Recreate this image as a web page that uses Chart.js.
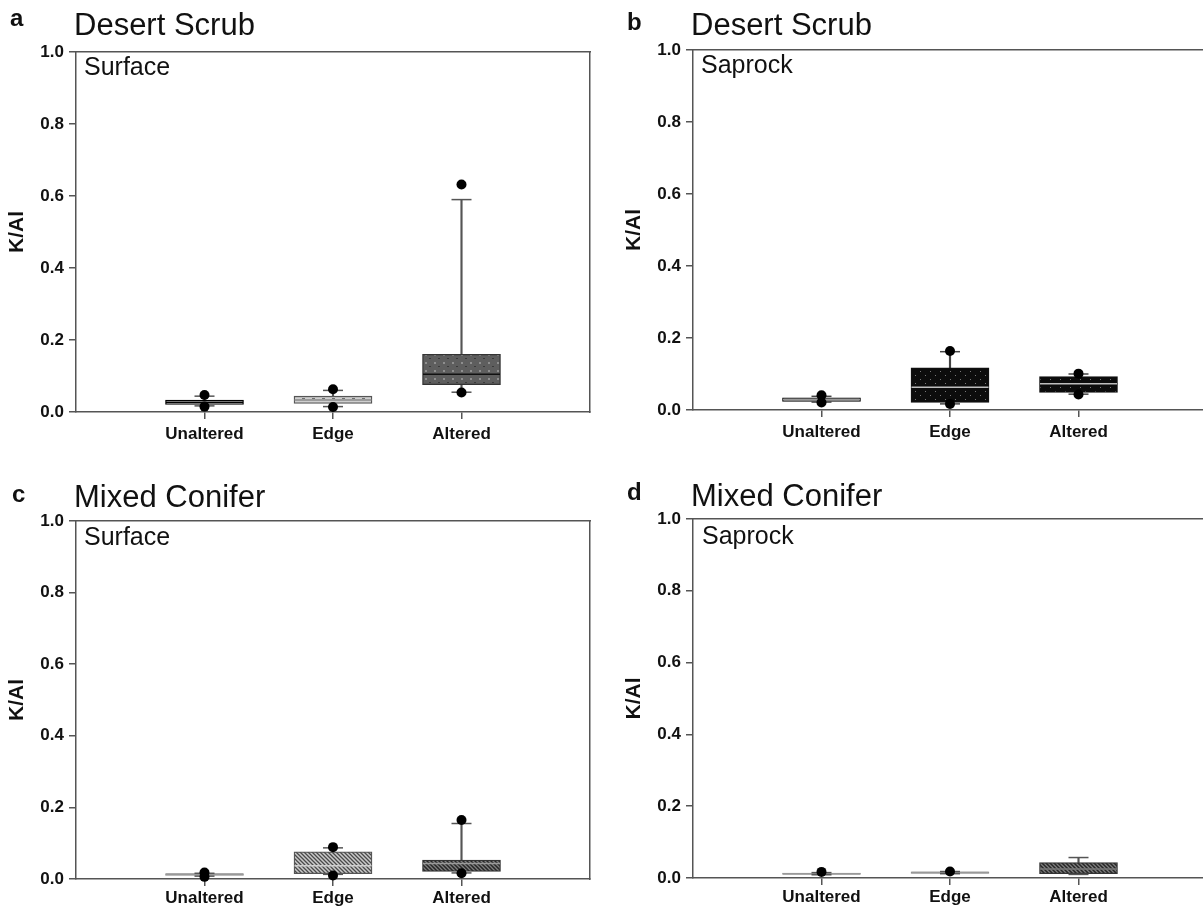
<!DOCTYPE html>
<html><head><meta charset="utf-8">
<script src="https://cdn.jsdelivr.net/npm/chart.js@4.4.0/dist/chart.umd.min.js"></script>
<style>
html,body{margin:0;padding:0;background:#fff;width:1203px;height:911px;overflow:hidden;position:relative;font-family:"Liberation Sans",Arial,sans-serif;}
canvas{position:absolute;}
.t{position:absolute;line-height:1;white-space:nowrap;color:#111;}
.L{font-weight:bold;font-size:24px;}
.T{font-size:31px;}
.S{font-size:25px;}
</style></head><body>
<canvas id="ca" width="600" height="456" style="left:0;top:0"></canvas>
<canvas id="cb" width="600" height="456" style="left:617px;top:0"></canvas>
<canvas id="cc" width="600" height="455" style="left:0;top:456px"></canvas>
<canvas id="cd" width="600" height="455" style="left:617px;top:456px"></canvas>

<div class="t L" style="left:10px;top:6px">a</div>
<div class="t T" style="left:74px;top:9px">Desert Scrub</div>
<div class="t S" style="left:84px;top:54px">Surface</div>

<div class="t L" style="left:627px;top:10px">b</div>
<div class="t T" style="left:691px;top:9px">Desert Scrub</div>
<div class="t S" style="left:701px;top:52px">Saprock</div>

<div class="t L" style="left:12px;top:482px">c</div>
<div class="t T" style="left:74px;top:481px">Mixed Conifer</div>
<div class="t S" style="left:84px;top:524px">Surface</div>

<div class="t L" style="left:627px;top:480px">d</div>
<div class="t T" style="left:691px;top:480px">Mixed Conifer</div>
<div class="t S" style="left:702px;top:523px">Saprock</div>

<script>
// ---------- data ----------
const categories = ['Unaltered', 'Edge', 'Altered'];
const yTicks = [0, 0.2, 0.4, 0.6, 0.8, 1.0];

// a: Desert Scrub, Surface
const aLow     = [0.017, 0.015, 0.055];
const aQ1      = [0.021, 0.024, 0.076];
const aMed     = [0.027, 0.033, 0.105];
const aQ3      = [0.033, 0.044, 0.160];
const aHigh    = [0.044, 0.060, 0.590];
const aOutHigh = [0.047, 0.063, 0.632];
const aOutLow  = [0.015, 0.014, 0.054];

// b: Desert Scrub, Saprock
const bLow     = [0.022, 0.017, 0.044];
const bQ1      = [0.024, 0.021, 0.049];
const bMed     = [0.029, 0.063, 0.073];
const bQ3      = [0.034, 0.117, 0.093];
const bHigh    = [0.038, 0.162, 0.100];
const bOutHigh = [0.041, 0.164, 0.101];
const bOutLow  = [0.021, 0.017, 0.043];

// c: Mixed Conifer, Surface
const cLow     = [0.008, 0.013, 0.017];
const cQ1      = [0.010, 0.015, 0.021];
const cMed     = [0.013, 0.037, 0.043];
const cQ3      = [0.015, 0.076, 0.053];
const cHigh    = [0.016, 0.087, 0.155];
const cOutHigh = [0.018, 0.089, 0.165];
const cOutLow  = [0.006, 0.010, 0.016];

// d: Mixed Conifer, Saprock
const dLow     = [0.009, 0.012, 0.010];
const dQ1      = [0.010, 0.013, 0.012];
const dMed     = [0.012, 0.015, 0.025];
const dQ3      = [0.014, 0.017, 0.043];
const dHigh    = [0.015, 0.018, 0.057];
const dOutHigh = [0.017, 0.018, null];
const dOutLow  = [null, null, null];

// ---------- patterns ----------
function pattern(w, h, base, draw) {
  const c = document.createElement('canvas');
  c.width = w; c.height = h;
  const g = c.getContext('2d');
  g.fillStyle = base; g.fillRect(0, 0, w, h);
  draw(g);
  return g.createPattern(c, 'repeat');
}
const dashLight = pattern(10, 6, '#cfcfcf', g => { g.fillStyle = '#6e6e6e'; g.fillRect(2, 2, 3, 1); });
const dotGrey = pattern(9, 8, '#5e5e5e', g => { g.fillStyle = '#8e8e8e'; g.fillRect(2, 2, 2, 2); g.fillStyle = '#3a3a3a'; g.fillRect(6, 6, 2, 1); });
const dotBlack = pattern(10, 8, '#0c0c0c', g => { g.fillStyle = '#777'; g.fillRect(3, 3, 1, 1); g.fillRect(8, 7, 1, 1); });
function hatch(base, line, step) {
  return pattern(step, step, base, g => {
    g.strokeStyle = line; g.lineWidth = 1.3;
    g.beginPath();
    g.moveTo(-1, -1); g.lineTo(step + 1, step + 1);
    g.moveTo(-1, step - 1); g.lineTo(1, step + 1);
    g.moveTo(step - 1, -1); g.lineTo(step + 1, 1);
    g.stroke();
  });
}
const hatchLight = hatch('#cacaca', '#4a4a4a', 4);
const hatchDark = hatch('#262626', '#7e7e7e', 4);

const FONT = '"Liberation Sans", Arial, sans-serif';
const AXC = '#555';

function pts(vals) {
  const out = [];
  vals.forEach((v, i) => { if (v !== null && v !== undefined) out.push({ x: i + 1, y: v }); });
  return out;
}

function makePanel(id, S, st, L) {
  const boxes = categories.map((c, i) => ({ x: i + 1, y: [S.q1[i], S.q3[i]] }));
  const whiskers = [];
  categories.forEach((c, i) => {
    whiskers.push({ x: i + 1, y: [S.low[i], S.q1[i]] });
    whiskers.push({ x: i + 1, y: [S.q3[i], S.high[i]] });
  });
  const caps = pts(S.low).concat(pts(S.high));
  const outs = pts(S.outHigh).concat(pts(S.outLow));
  const meds = pts(S.med);

  new Chart(document.getElementById(id), {
    type: 'bar',
    data: {
      datasets: [
        { type: 'scatter', data: outs, order: 0, clip: false,
          pointStyle: 'circle', pointRadius: 5, pointBackgroundColor: '#000', pointBorderColor: '#000', pointBorderWidth: 0 },
        { type: 'scatter', data: caps, order: 1, clip: false,
          pointStyle: 'line', pointRadius: 10, pointBorderColor: st.whisker, pointBorderWidth: 1.5 },
        { type: 'scatter', data: meds, order: 2, clip: false,
          pointStyle: 'line', pointRadius: 38.5, pointBorderColor: st.median, pointBorderWidth: 1.5 },
        { type: 'bar', data: boxes, order: 3, grouped: false, barThickness: 78,
          backgroundColor: st.fill, borderColor: st.border, borderWidth: 1.3, borderSkipped: false },
        { type: 'bar', data: whiskers, order: 4, grouped: false, barThickness: 1.5,
          backgroundColor: st.whisker, borderWidth: 0 }
      ]
    },
    options: {
      responsive: false, animation: false, events: [],
      layout: { autoPadding: false, padding: { top: L.top, right: 10, left: 0, bottom: 0 } },
      plugins: { legend: { display: false }, tooltip: { enabled: false } },
      scales: {
        x: {
          type: 'linear', min: 0, max: 4, offset: false,
          afterBuildTicks: s => { s.ticks = categories.map((c, i) => ({ value: i + 1 })); },
          afterFit: s => { s.height = L.xh; },
          ticks: { callback: v => categories[v - 1] || '', autoSkip: false, maxRotation: 0,
                   font: { family: FONT, size: 17, weight: 'bold' }, color: '#111', padding: L.tp },
          grid: { display: true, drawOnChartArea: false, drawTicks: true, tickLength: 7, color: AXC, lineWidth: 1.5, offset: false },
          border: { display: true, color: AXC, width: 1.5 }
        },
        y: {
          type: 'linear', min: 0, max: 1,
          afterBuildTicks: s => { s.ticks = yTicks.map(v => ({ value: v })); },
          afterFit: s => { s.width = 76; },
          ticks: { callback: v => Number(v).toFixed(1), font: { family: FONT, size: 17, weight: 'bold' }, color: '#111', padding: 5 },
          title: { display: true, text: 'K/Al', font: { family: FONT, size: 21, weight: 'bold' }, color: '#111', padding: { top: 5, bottom: 0 } },
          grid: { display: true, drawOnChartArea: false, drawTicks: true, tickLength: 7, color: AXC, lineWidth: 1.5 },
          border: { display: true, color: AXC, width: 1.5 }
        },
        x2: {
          type: 'linear', position: 'top', min: 0, max: 4, offset: false,
          ticks: { display: false }, grid: { display: false, drawTicks: false },
          border: { display: true, color: AXC, width: 1.5 },
          afterFit: s => { s.height = 0; }
        },
        y2: {
          type: 'linear', position: 'right', min: 0, max: 1,
          ticks: { display: false }, grid: { display: false, drawTicks: false },
          border: { display: true, color: AXC, width: 1.5 },
          afterFit: s => { s.width = 0; }
        }
      }
    }
  });
}

makePanel('ca',
  { low: aLow, q1: aQ1, med: aMed, q3: aQ3, high: aHigh, outHigh: aOutHigh, outLow: aOutLow },
  { fill: ['#e8e8e8', dashLight, dotGrey], border: ['#000', '#555', '#333'], median: ['#000', '#8a8a8a', '#111'], whisker: '#555' },
  { top: 52, xh: 44, tp: 5 });

makePanel('cb',
  { low: bLow, q1: bQ1, med: bMed, q3: bQ3, high: bHigh, outHigh: bOutHigh, outLow: bOutLow },
  { fill: ['#f2f2f2', dotBlack, dotBlack], border: ['#000', '#111', '#111'], median: ['#999', '#bdbdbd', '#bdbdbd'], whisker: '#444' },
  { top: 50, xh: 46, tp: 5 });

makePanel('cc',
  { low: cLow, q1: cQ1, med: cMed, q3: cQ3, high: cHigh, outHigh: cOutHigh, outLow: cOutLow },
  { fill: ['#8c8c8c', hatchLight, hatchDark], border: ['#888', '#555', '#333'], median: ['#999', '#cfcfcf', '#9a9a9a'], whisker: '#555' },
  { top: 65, xh: 32, tp: 2 });

makePanel('cd',
  { low: dLow, q1: dQ1, med: dMed, q3: dQ3, high: dHigh, outHigh: dOutHigh, outLow: dOutLow },
  { fill: ['#a0a0a0', '#a0a0a0', hatchDark], border: ['#8a8a8a', '#8a8a8a', '#333'], median: ['#999', '#999', '#777'], whisker: '#555' },
  { top: 63, xh: 33, tp: 2 });
</script>
</body></html>
